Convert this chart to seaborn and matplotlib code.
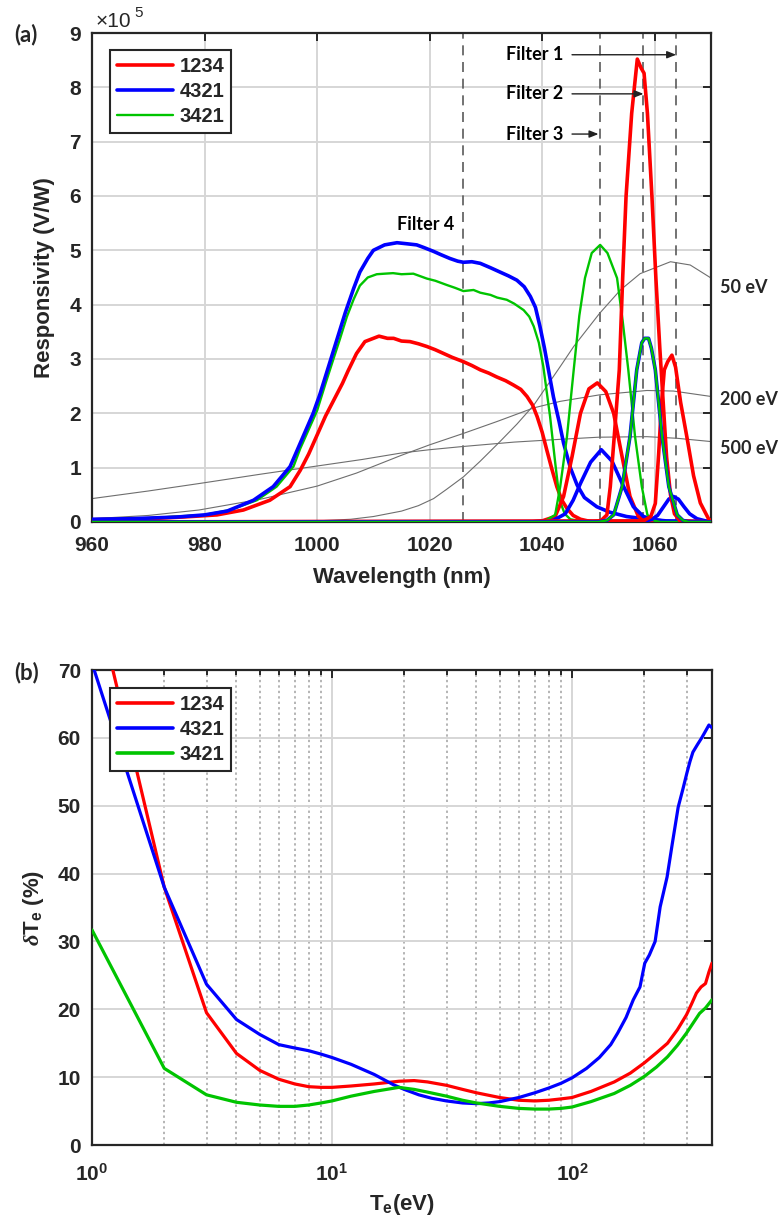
import numpy as np
import pandas as pd
import matplotlib
matplotlib.use("Agg")
import matplotlib.pyplot as plt
import seaborn as sns
from matplotlib.ticker import NullFormatter
from matplotlib.lines import Line2D

# ---------------- data : panel (a) (responsivity in units of 1e5 V/W) -------------
set_names = ["1234", "4321", "3421"]
set_colors = {"1234": "#ff0000", "4321": "#0000ff", "3421": "#00c400"}

# Filter 4 (broad band)
red_f4_wl = [960, 970, 976, 982.2, 986.9, 991.6, 995.2, 997, 998.5, 1000, 1001.5, 1003, 1004.5, 1005.5,
             1007, 1008.5, 1009.5, 1011, 1012.5, 1013.6, 1015, 1016.5, 1018, 1019.5, 1021, 1022.5, 1024,
             1026, 1027.5, 1029, 1030.5, 1031.9, 1033.5, 1034.9, 1036.2, 1037.3, 1038.3, 1039.1, 1040,
             1040.8, 1041.7, 1042.6, 1043.5, 1044.4, 1045.5, 1046.8, 1048.5, 1050, 1070]
red_f4_r = [0.04, 0.06, 0.09, 0.13, 0.22, 0.4, 0.65, 0.95, 1.25, 1.6, 1.95, 2.25, 2.55, 2.78,
            3.1, 3.32, 3.36, 3.42, 3.38, 3.38, 3.33, 3.32, 3.28, 3.23, 3.17, 3.1, 3.03,
            2.95, 2.88, 2.8, 2.74, 2.67, 2.6, 2.52, 2.44, 2.31, 2.15, 1.94, 1.65,
            1.33, 0.98, 0.65, 0.4, 0.25, 0.12, 0.05, 0.01, 0.0, 0.0]

blue_f4_wl = [960, 967, 975, 980, 984, 988.7, 992.2, 995.2, 997, 999.3, 1000.5, 1002, 1003.5, 1005,
              1006.5, 1007.6, 1009, 1010, 1012, 1014.2, 1016, 1017.7, 1019, 1020.7, 1022, 1023.6, 1025,
              1026, 1027.5, 1029, 1030.8, 1032.5, 1034, 1035.5, 1036.8, 1037.9, 1038.8, 1039.6, 1040.4,
              1041.2, 1042, 1043, 1043.8, 1045, 1046.2, 1047.5, 1049.7, 1052, 1055, 1058, 1062, 1070]
blue_f4_r = [0.05, 0.06, 0.09, 0.13, 0.2, 0.4, 0.65, 1.02, 1.45, 2.0, 2.35, 2.85, 3.35, 3.85,
             4.3, 4.6, 4.85, 5.0, 5.1, 5.14, 5.12, 5.1, 5.05, 4.98, 4.92, 4.85, 4.8,
             4.78, 4.79, 4.76, 4.68, 4.6, 4.53, 4.45, 4.33, 4.15, 3.95, 3.6, 3.2,
             2.75, 2.3, 1.85, 1.45, 1.0, 0.68, 0.45, 0.28, 0.18, 0.1, 0.06, 0.02, 0.01]

green_f4_wl = [960, 970, 980, 984.5, 989.3, 992.8, 995.8, 997, 1000, 1001.5, 1002.9, 1004, 1005.3, 1006.5,
               1007.6, 1009, 1010.6, 1012, 1013.5, 1015, 1017.1, 1019.5, 1021, 1023.1, 1024.5, 1026,
               1027.8, 1029, 1030.8, 1032, 1033.7, 1035, 1036.7, 1037.7, 1038.5, 1039.4, 1040.2, 1041.4,
               1042.3, 1043.1, 1044, 1045, 1047, 1050, 1070]
green_f4_r = [0.05, 0.07, 0.13, 0.22, 0.4, 0.65, 1.02, 1.35, 2.05, 2.55, 3.0, 3.35, 3.78, 4.1,
              4.35, 4.5, 4.56, 4.57, 4.58, 4.56, 4.57, 4.48, 4.44, 4.36, 4.31, 4.25,
              4.27, 4.22, 4.18, 4.13, 4.09, 4.02, 3.9, 3.78, 3.6, 3.3, 2.86, 1.94,
              1.1, 0.4, 0.15, 0.05, 0.01, 0.0, 0.0]

# Filter 3 (~1050 nm)
red_f3_wl = [960, 1038, 1040, 1042.3, 1043.8, 1045.3, 1046.8, 1048.3, 1049.8, 1051.3, 1052.7, 1054.2,
             1055.6, 1057.1, 1058.5, 1060, 1070]
red_f3_r = [0, 0, 0.02, 0.1, 0.47, 1.2, 2.0, 2.45, 2.56, 2.4, 2.0, 1.2, 0.47, 0.1, 0.02, 0, 0]

blue_f3_wl = [960, 1038, 1040, 1042, 1044.1, 1045.5, 1046.8, 1048.6, 1050.5, 1052.4, 1054.2, 1056.2,
              1058, 1060, 1062, 1070]
blue_f3_r = [0, 0, 0.01, 0.03, 0.15, 0.4, 0.71, 1.1, 1.33, 1.12, 0.71, 0.28, 0.1, 0.04, 0.01, 0]

green_f3_wl = [960, 1038, 1040.5, 1042.3, 1043.2, 1044.4, 1045.6, 1046.6, 1047.6, 1048.8, 1050.3,
               1051.6, 1053.3, 1054.3, 1055.3, 1056.5, 1057.7, 1058.7, 1060, 1061, 1070]
green_f3_r = [0, 0, 0.02, 0.13, 0.65, 1.57, 2.8, 3.8, 4.49, 4.95, 5.1,
              4.95, 4.49, 3.7, 2.8, 1.57, 0.65, 0.13, 0.02, 0, 0]

# Filter 2 (~1058 nm)
red_f2_wl = [960, 1049, 1050.5, 1051.5, 1052.1, 1052.8, 1053.7, 1054.3, 1054.9, 1055.9, 1056.9, 1057.6,
             1058.1, 1058.7, 1059.5, 1060.2, 1060.9, 1061.5, 1062.1, 1062.8, 1063.5, 1064.5, 1070]
red_f2_r = [0, 0, 0.03, 0.13, 0.65, 1.57, 2.8, 4.49, 5.99, 7.52, 8.52, 8.35,
            8.26, 7.52, 5.99, 4.49, 3.2, 2.2, 1.2, 0.5, 0.15, 0.02, 0]

blue_f2_wl = [960, 1050, 1051.5, 1052.7, 1054.2, 1055.6, 1056.8, 1057.7, 1058.2, 1058.9, 1059.4, 1060.1,
              1061.3, 1062.5, 1064, 1065, 1066, 1070]
blue_f2_r = [0, 0, 0.03, 0.13, 0.65, 1.57, 2.8, 3.3, 3.38, 3.38, 3.2, 2.8,
             1.57, 0.65, 0.13, 0.03, 0, 0]

green_f2_wl = [960, 1050, 1051.5, 1052.7, 1054.2, 1055.6, 1056.8, 1057.7, 1058.2, 1058.9, 1059.4, 1060.1,
               1061.3, 1062.5, 1064, 1065, 1066, 1070]
green_f2_r = [0, 0, 0.03, 0.13, 0.65, 1.57, 2.8, 3.3, 3.38, 3.38, 3.2, 2.8,
              1.57, 0.65, 0.13, 0.03, 0, 0]

# Filter 1 (~1063 nm)
red_f1_wl = [960, 1058, 1059.3, 1060.1, 1060.7, 1061.2, 1061.7, 1062.3, 1063.05, 1063.7, 1064.6,
             1065.7, 1066.9, 1068.1, 1069.6, 1070]
red_f1_r = [0, 0.02, 0.1, 0.34, 1.26, 2.18, 2.8, 2.95, 3.07, 2.85, 2.2, 1.57, 0.85, 0.35, 0.05, 0.03]

blue_f1_wl = [960, 1058, 1059.5, 1060.5, 1061.5, 1062.5, 1063.3, 1064.2, 1065.2, 1066.2, 1067.5,
              1069, 1070]
blue_f1_r = [0, 0.01, 0.05, 0.12, 0.27, 0.42, 0.47, 0.42, 0.28, 0.15, 0.06, 0.02, 0.01]

# Thin gray reference spectra (50, 200, 500 eV)
g50_wl = [960, 980, 1000, 1006, 1010, 1015, 1018, 1020.7, 1023, 1026, 1029, 1032.5, 1035.5, 1038.5,
          1043.2, 1045.6, 1050.2, 1053.9, 1057.4, 1062.8, 1066.3, 1070]
g50_r = [0.0, 0.005, 0.02, 0.05, 0.1, 0.2, 0.3, 0.43, 0.6, 0.83, 1.12, 1.48, 1.8, 2.15,
         2.86, 3.23, 3.84, 4.27, 4.57, 4.79, 4.73, 4.49]
g200_wl = [960, 970, 979, 990, 1000, 1007, 1014.8, 1020, 1026, 1032, 1038.5, 1043.2, 1050.2,
           1058.6, 1063.3, 1070]
g200_r = [0.06, 0.12, 0.22, 0.42, 0.66, 0.9, 1.22, 1.42, 1.63, 1.85, 2.1, 2.22, 2.34,
          2.42, 2.41, 2.31]
g500_wl = [960, 970, 979.2, 990, 1000, 1008, 1015, 1020, 1026, 1035, 1043, 1050, 1058.6, 1064, 1070]
g500_r = [0.43, 0.57, 0.71, 0.88, 1.03, 1.15, 1.27, 1.33, 1.39, 1.47, 1.52, 1.56, 1.57, 1.54, 1.48]

filter_lines_wl = [1026, 1050.2, 1058, 1063.8]

# ---------------- data : panel (b) ----------------
te_blue = [1, 2, 3, 4, 5, 6, 7, 8, 9, 10, 12, 15, 18, 20, 23, 26, 30, 35, 40, 45, 50, 60, 70, 80, 90,
           100, 115, 130, 145, 155, 168, 180, 192, 201, 210, 222, 233, 249, 262, 277, 290, 301, 310,
           319, 333, 347, 360, 372, 383]
dte_blue = [71, 38, 23.7, 18.5, 16.3, 14.8, 14.3, 13.9, 13.4, 12.9, 11.9, 10.4, 8.9, 8.2, 7.4, 6.9,
            6.5, 6.2, 6.1, 6.2, 6.4, 7.0, 7.7, 8.4, 9.1, 9.9, 11.3, 12.9, 14.8, 16.5, 18.8, 21.4,
            23.3, 26.8, 28, 30, 35.1, 39.5, 44.5, 49.8, 52.5, 54.8, 56.5, 57.9, 59, 60, 61, 61.9, 61.5]
te_red = [1, 2, 3, 4, 5, 6, 7, 8, 9, 10, 12, 15, 19, 22, 25, 30, 35, 40, 50, 60, 70, 80, 90, 100,
          120, 150, 175, 200, 225, 250, 275, 300, 315, 330, 345, 360, 372, 383]
dte_red = [83, 38, 19.5, 13.5, 11.0, 9.7, 9.0, 8.6, 8.5, 8.5, 8.7, 9.0, 9.4, 9.5, 9.3, 8.8, 8.2,
           7.7, 7.0, 6.6, 6.5, 6.6, 6.8, 7.0, 7.9, 9.3, 10.6, 12.1, 13.6, 15, 17, 19.2, 20.8,
           22.4, 23.3, 23.8, 25.5, 26.8]
te_green = [1, 2, 3, 4, 5, 6, 7, 8, 9, 10, 12, 15, 19, 22, 25, 30, 35, 40, 50, 60, 70, 80, 90, 100,
            120, 150, 175, 200, 225, 250, 275, 300, 320, 340, 360, 383]
dte_green = [31.7, 11.3, 7.4, 6.3, 5.9, 5.7, 5.7, 5.9, 6.2, 6.5, 7.2, 7.9, 8.5, 8.2, 7.8, 7.2, 6.6,
             6.2, 5.7, 5.4, 5.3, 5.3, 5.4, 5.6, 6.4, 7.6, 8.8, 10.1, 11.5, 13, 14.7, 16.5, 18,
             19.4, 20.2, 21.4]

# ---------------- styling ----------------
sns.set_theme(style="white")
plt.rcParams["font.family"] = ["Liberation Sans", "DejaVu Sans"]
plt.rcParams["font.weight"] = "bold"
plt.rcParams["mathtext.fontset"] = "custom"
plt.rcParams["mathtext.rm"] = "Liberation Sans:bold"
plt.rcParams["mathtext.bf"] = "Liberation Sans:bold"
plt.rcParams["mathtext.it"] = "Liberation Serif:italic"
plt.rcParams["mathtext.sf"] = "Liberation Sans:bold"
plt.rcParams["mathtext.default"] = "regular"

SPINE = "#262626"
GRID = "#d6d6d6"
TICK_FS = 15
LABEL_FS = 16
ANN = dict(family=["Lato", "DejaVu Sans"], fontweight="bold", fontsize=13)

fig = plt.figure(figsize=(7.81, 12.27), dpi=100)
ax1 = fig.add_axes([0.1178, 0.5746, 0.7926, 0.3985])
ax2 = fig.add_axes([0.1178, 0.0668, 0.7938, 0.3871])

LW = {"1234": 2.6, "4321": 2.6, "3421": 1.7}


def style_axes(ax, xpad):
    for s in ax.spines.values():
        s.set_color(SPINE)
        s.set_linewidth(1.6)
    ax.tick_params(which="both", direction="in", top=True, right=True, color=SPINE,
                   labelsize=TICK_FS, labelcolor=SPINE, width=1.4)
    ax.tick_params(which="major", length=6)
    ax.tick_params(which="minor", length=3.5)
    ax.tick_params(axis="x", which="both", pad=xpad)
    ax.tick_params(axis="y", which="both", pad=8)
    for lab in ax.get_xticklabels() + ax.get_yticklabels():
        lab.set_fontweight("bold")


# ---------------- panel (a) ----------------
ax = ax1
ax.set_axisbelow(True)
ax.grid(True, color=GRID, lw=1.4)

for wl, r in [(g50_wl, g50_r), (g200_wl, g200_r), (g500_wl, g500_r)]:
    sns.lineplot(x=wl, y=r, ax=ax, color="#6e6e6e", lw=0.8, estimator=None, legend=False)

for xv in filter_lines_wl:
    ax.axvline(xv, color="#5a5a5a", lw=1.2, ls=(0, (6, 4)), zorder=1.5)

curves_a = [
    (red_f4_wl, red_f4_r, "1234"), (green_f4_wl, green_f4_r, "3421"), (blue_f4_wl, blue_f4_r, "4321"),
    (red_f3_wl, red_f3_r, "1234"), (blue_f3_wl, blue_f3_r, "4321"), (green_f3_wl, green_f3_r, "3421"),
    (blue_f1_wl, blue_f1_r, "4321"), (red_f1_wl, red_f1_r, "1234"),
    (red_f2_wl, red_f2_r, "1234"), (blue_f2_wl, blue_f2_r, "4321"), (green_f2_wl, green_f2_r, "3421"),
]
for wl, r, s in curves_a:
    sns.lineplot(x=wl, y=r, ax=ax, color=set_colors[s], lw=LW[s], estimator=None, legend=False,
                 zorder=3)

ax.set_xlim(960, 1070)
ax.set_ylim(0, 9)
ax.set_xticks([960, 980, 1000, 1020, 1040, 1060])
ax.set_yticks(range(0, 10))
ax.set_xlabel("Wavelength (nm)", fontsize=LABEL_FS, fontweight="bold", color=SPINE, labelpad=9)
ax.set_ylabel("Responsivity (V/W)", fontsize=LABEL_FS, fontweight="bold", color=SPINE, labelpad=10)
style_axes(ax, 10)

handles = [Line2D([], [], color=set_colors[s], lw=LW[s]) for s in set_names]
leg = ax.legend(handles, set_names, loc="upper left", bbox_to_anchor=(0.029, 0.965), frameon=True,
                fancybox=False, edgecolor=SPINE, framealpha=1,
                prop={"family": "Liberation Sans", "weight": "bold", "size": 14.5},
                handlelength=2.8, handletextpad=0.3, borderpad=0.35, labelspacing=0.3, borderaxespad=0)
leg.get_frame().set_linewidth(1.5)

# x10^5 multiplier
ax.text(0.005, 1.012, "×10", transform=ax.transAxes, fontsize=15, fontweight="normal",
        color=SPINE, ha="left", va="baseline")
ax.text(0.068, 1.033, "5", transform=ax.transAxes, fontsize=11, fontweight="normal",
        color=SPINE, ha="left", va="baseline")

# annotations
ax.text(1043.8, 8.6, "Filter 1", ha="right", va="center", color="black", **ANN)
ax.text(1043.8, 7.88, "Filter 2", ha="right", va="center", color="black", **ANN)
ax.text(1043.8, 7.14, "Filter 3", ha="right", va="center", color="black", **ANN)
ax.text(1019.2, 5.47, "Filter 4", ha="center", va="center", color="black", **ANN)
arrow_kw = dict(arrowstyle="-|>,head_length=0.45,head_width=0.18", color="#222222", lw=1.0,
                shrinkA=0, shrinkB=0)
ax.annotate("", xy=(1063.8, 8.6), xytext=(1045.3, 8.6), arrowprops=arrow_kw)
ax.annotate("", xy=(1058.0, 7.88), xytext=(1045.3, 7.88), arrowprops=arrow_kw)
ax.annotate("", xy=(1050.0, 7.14), xytext=(1045.3, 7.14), arrowprops=arrow_kw)
ax.text(1071.6, 4.31, "50 eV", ha="left", va="center", clip_on=False, **ANN)
ax.text(1071.6, 2.25, "200 eV", ha="left", va="center", clip_on=False, **ANN)
ax.text(1071.6, 1.36, "500 eV", ha="left", va="center", clip_on=False, **ANN)
fig.text(26 / 781, 1 - 35 / 1227, "(a)", ha="center", va="center",
         family=["Lato", "DejaVu Sans"], fontweight="bold", fontsize=16)

# ---------------- panel (b) ----------------
ax = ax2
ax.set_xscale("log")
ax.set_axisbelow(True)
ax.grid(True, which="major", color=GRID, lw=1.4)
ax.grid(True, which="minor", axis="x", color="#b4b4b4", lw=1.4, ls=(0, (1.2, 1.6)))

df_b = pd.concat([
    pd.DataFrame({"Te": te_red, "dTe": dte_red, "set": "1234"}),
    pd.DataFrame({"Te": te_blue, "dTe": dte_blue, "set": "4321"}),
    pd.DataFrame({"Te": te_green, "dTe": dte_green, "set": "3421"}),
])
sns.lineplot(data=df_b, x="Te", y="dTe", hue="set", hue_order=set_names, palette=set_colors,
             estimator=None, lw=2.3, ax=ax, legend=False, zorder=3)

ax.set_xlim(1, 383)
ax.set_ylim(0, 70)
ax.set_yticks(range(0, 71, 10))
ax.xaxis.set_minor_formatter(NullFormatter())
ax.set_xlabel("T$_{e}$(eV)", fontsize=LABEL_FS, fontweight="bold", color=SPINE, labelpad=5)
ax.set_ylabel(r"$\mathit{\delta}$T$_{e}$ (%)", fontsize=LABEL_FS, fontweight="bold", color=SPINE,
              labelpad=8)
style_axes(ax, 13)

handles = [Line2D([], [], color=set_colors[s], lw=2.6) for s in set_names]
leg = ax.legend(handles, set_names, loc="upper left", bbox_to_anchor=(0.029, 0.962), frameon=True,
                fancybox=False, edgecolor=SPINE, framealpha=1,
                prop={"family": "Liberation Sans", "weight": "bold", "size": 14.5},
                handlelength=2.8, handletextpad=0.3, borderpad=0.35, labelspacing=0.3, borderaxespad=0)
leg.get_frame().set_linewidth(1.5)
fig.text(27 / 781, 1 - 673 / 1227, "(b)", ha="center", va="center",
         family=["Lato", "DejaVu Sans"], fontweight="bold", fontsize=16)

fig.savefig("out.png", dpi=100)
